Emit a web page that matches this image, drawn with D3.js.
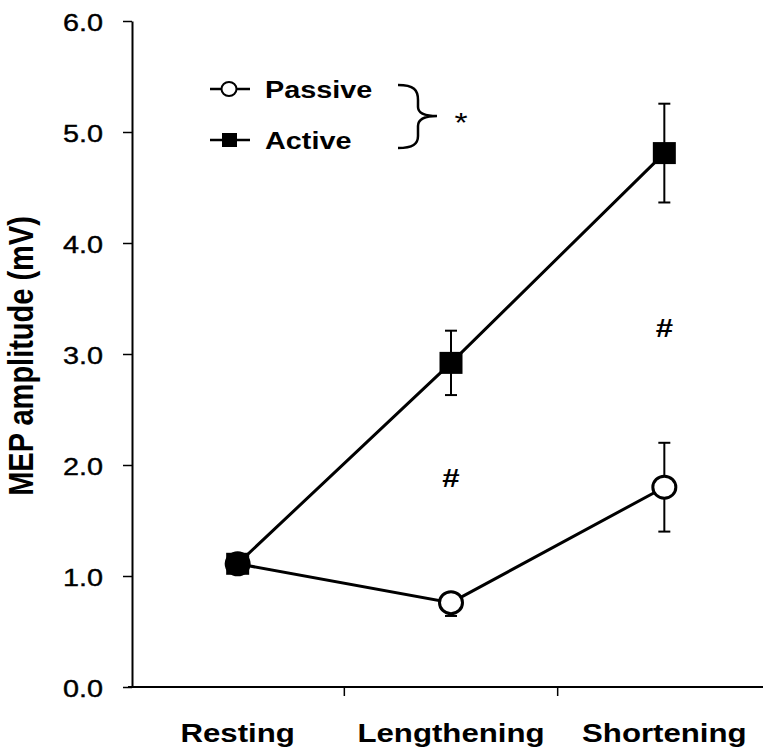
<!DOCTYPE html>
<html><head><meta charset="utf-8">
<script src="https://cdn.jsdelivr.net/npm/d3@7"></script>
<style>
html,body{margin:0;padding:0;background:#fff;}
svg{display:block;font-family:"Liberation Sans",Arial,Helvetica,sans-serif;}
</style></head>
<body><svg id="chart" width="763" height="750"></svg>
<script>
const categories = ["Resting", "Lengthening", "Shortening"];
const passiveMean = [1.11, 0.76, 1.80];
const passiveErr  = [0.05, 0.12, 0.40];
const activeMean  = [1.11, 2.92, 4.81];
const activeErr   = [0.05, 0.29, 0.445];
const yTicks = [0, 1, 2, 3, 4, 5, 6];
const seriesNames = ["Passive", "Active"];
const hashLabels = [{cat: "Lengthening", y: 1.88}, {cat: "Shortening", y: 3.23}];

const SX = 1.2; // horizontal stretch of the original scan
const svg = d3.select("#chart");
const y = d3.scaleLinear().domain([0, 6]).range([687, 21]);
const x = d3.scaleBand().domain(categories).range([131, 771]).padding(0);
const cx = c => x(c) + x.bandwidth() / 2;

// Y axis
const yAxis = svg.append("g").attr("transform", "translate(132,0)")
  .call(d3.axisLeft(y).tickValues(yTicks).tickFormat(d3.format(".1f")).tickSize(9).tickSizeOuter(0));
yAxis.select(".domain").attr("stroke", "#000").attr("stroke-width", 2);
yAxis.selectAll(".tick line").attr("stroke", "#000").attr("stroke-width", 1.5);
yAxis.selectAll(".tick text")
  .attr("x", null).attr("dy", null).attr("y", 9)
  .attr("text-anchor", "end")
  .attr("transform", `translate(-29,0) scale(${SX},1)`)
  .style("font-size", "24px").style("font-family", "'Liberation Sans',Arial,sans-serif")
  .attr("fill", "#000").attr("stroke", "#000").attr("stroke-width", 0.4);

// X axis
svg.append("line").attr("x1", 128).attr("x2", 763).attr("y1", y(0)).attr("y2", y(0))
  .attr("stroke", "#000").attr("stroke-width", 2);
svg.selectAll(".xtick").data(categories.slice(1)).join("line")
  .attr("x1", d => x(d)).attr("x2", d => x(d))
  .attr("y1", y(0)).attr("y2", y(0) + 9)
  .attr("stroke", "#000").attr("stroke-width", 1.5);
svg.selectAll(".xlab").data(categories).join("text")
  .attr("transform", d => `translate(${cx(d)},742) scale(${SX},1)`)
  .attr("text-anchor", "middle")
  .style("font-size", "26px").style("font-weight", "bold")
  .text(d => d);

// Y label
svg.append("text")
  .attr("transform", `translate(33,356) scale(${SX},1) rotate(-90)`)
  .attr("text-anchor", "middle")
  .style("font-size", "29px").style("font-weight", "bold")
  .text("MEP amplitude (mV)");

// lines
const line = d3.line().x(d => cx(d.c)).y(d => y(d.v));
const pData = categories.map((c, i) => ({c, v: passiveMean[i], e: passiveErr[i]}));
const aData = categories.map((c, i) => ({c, v: activeMean[i], e: activeErr[i]}));

function errBars(data) {
  const g = svg.append("g").attr("stroke", "#000").attr("stroke-width", 2);
  data.forEach(d => {
    const xc = cx(d.c);
    g.append("line").attr("x1", xc).attr("x2", xc).attr("y1", y(d.v)).attr("y2", y(d.v - d.e));
    g.append("line").attr("x1", xc - 6).attr("x2", xc + 6).attr("y1", y(d.v - d.e)).attr("y2", y(d.v - d.e));
    if (y(d.v) - y(d.v + d.e) > 15) {
      g.append("line").attr("x1", xc).attr("x2", xc).attr("y1", y(d.v + d.e)).attr("y2", y(d.v));
      g.append("line").attr("x1", xc - 6).attr("x2", xc + 6).attr("y1", y(d.v + d.e)).attr("y2", y(d.v + d.e));
    }
  });
}
errBars(pData);
errBars(aData);

svg.append("path").datum(pData).attr("d", line).attr("fill", "none").attr("stroke", "#000").attr("stroke-width", 3);
svg.append("path").datum(aData).attr("d", line).attr("fill", "none").attr("stroke", "#000").attr("stroke-width", 3);

svg.selectAll(".pm").data(pData).join("ellipse")
  .attr("cx", d => cx(d.c)).attr("cy", d => y(d.v)).attr("rx", 11.5).attr("ry", 11)
  .attr("fill", "#fff").attr("stroke", "#000").attr("stroke-width", 3);
svg.selectAll(".am").data(aData).join("rect")
  .attr("x", d => cx(d.c) - 11.5).attr("y", d => y(d.v) - 11).attr("width", 23).attr("height", 22)
  .attr("fill", "#000");

// hash marks
svg.selectAll(".hash").data(hashLabels).join("text")
  .attr("transform", d => `translate(${cx(d.cat)},${y(d.y) + 9}) scale(${SX},1)`)
  .attr("text-anchor", "middle")
  .style("font-size", "26px").style("font-weight", "bold")
  .text("#");

// legend
const lg = svg.append("g");
[89, 140].forEach((ly, i) => {
  lg.append("line").attr("x1", 210).attr("x2", 250).attr("y1", ly).attr("y2", ly)
    .attr("stroke", "#000").attr("stroke-width", 2.5);
  if (i === 0) {
    lg.append("ellipse").attr("cx", 229).attr("cy", ly).attr("rx", 7.5).attr("ry", 7)
      .attr("fill", "#fff").attr("stroke", "#000").attr("stroke-width", 2);
  } else {
    lg.append("rect").attr("x", 222).attr("y", ly - 7).attr("width", 15).attr("height", 14).attr("fill", "#000");
  }
  lg.append("text").attr("transform", `translate(265,${ly + 9}) scale(${SX},1)`)
    .style("font-size", "24px").style("font-weight", "bold").text(seriesNames[i]);
});
lg.append("path")
  .attr("d", "M398,85 C414,85 418,90 418,100 L418,107 C418,113 424,116 437,116 C424,116 418,120 418,126 L418,136 C418,144 413,148 398,148")
  .attr("fill", "none").attr("stroke", "#000").attr("stroke-width", 2.5);
lg.append("text").attr("transform", `translate(461,132) scale(${SX},1)`)
  .attr("text-anchor", "middle").style("font-size", "28px").text("*");
</script></body></html>
